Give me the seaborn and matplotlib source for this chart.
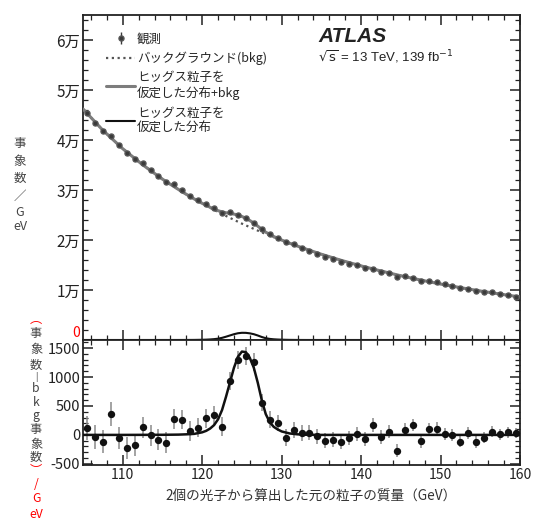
import numpy as np
import pandas as pd
import matplotlib
matplotlib.use("Agg")
import matplotlib.pyplot as plt
from matplotlib.ticker import MultipleLocator
from matplotlib.transforms import ScaledTranslation
import seaborn as sns

# bin centres (GeV)
mass_bins = [105.5, 106.5, 107.5, 108.5, 109.5, 110.5, 111.5, 112.5, 113.5, 114.5,
             115.5, 116.5, 117.5, 118.5, 119.5, 120.5, 121.5, 122.5, 123.5, 124.5,
             125.5, 126.5, 127.5, 128.5, 129.5, 130.5, 131.5, 132.5, 133.5, 134.5,
             135.5, 136.5, 137.5, 138.5, 139.5, 140.5, 141.5, 142.5, 143.5, 144.5,
             145.5, 146.5, 147.5, 148.5, 149.5, 150.5, 151.5, 152.5, 153.5, 154.5,
             155.5, 156.5, 157.5, 158.5, 159.5]

# observed events / GeV
observed = [45470, 43470, 41800, 40870, 39000, 37470, 36200, 35470, 34000, 32800,
            31670, 31200, 30000, 28800, 28000, 27200, 26330, 25330, 25530, 25070,
            24330, 23470, 22130, 21130, 20470, 19670, 19130, 18470, 17870, 17270,
            16600, 16130, 15600, 15270, 14930, 14400, 14270, 13600, 13330, 12670,
            12730, 12470, 11800, 11730, 11600, 11130, 10800, 10330, 10270, 9870,
            9670, 9530, 9130, 9070, 8670]

# observed - bkg
residual = [115, -40, -115, 362, -52, -230, -172, 132, -6, -86,
            -132, 270, 264, 63, 126, 287, 345, 144, 931, 1293,
            1368, 1259, 560, 265, 210, -46, 80, 34, 40, -23,
            -98, -80, -115, -57, 23, -75, 167, -40, 57, -276,
            86, 172, -109, 98, 109, 11, 0, -115, 29, -126,
            -46, 57, 11, 46, 34]

stat_err = [210, 205, 200, 200, 195, 190, 190, 185, 185, 180,
            175, 175, 170, 170, 165, 165, 160, 160, 160, 160,
            155, 150, 150, 145, 140, 140, 138, 135, 133, 130,
            128, 127, 125, 123, 122, 120, 119, 117, 115, 113,
            112, 111, 109, 108, 107, 105, 104, 102, 101, 100,
            99, 98, 96, 95, 94]

# background fit
bkg_mass = [105, 107.5, 110, 112.5, 115, 117.5, 120, 122.5, 125, 127.5, 130, 132.5,
            135, 137.5, 140, 142.5, 145, 147.5, 150, 152.5, 155, 157.5, 160]
bkg_fit = [46200, 41950, 38260, 35050, 32170, 29600, 27290, 25190, 23270, 21530, 19930,
           18480, 17150, 15930, 14820, 13800, 12850, 11990, 11200, 10470, 9800, 9180, 8610]

# signal + background fit
sb_mass = [105, 107.5, 110, 112.5, 115, 117.5, 119, 120, 121, 121.5, 122, 122.5, 123,
           123.5, 124, 124.5, 125, 125.5, 126, 126.5, 127, 127.5, 128, 129, 130, 131,
           132.5, 135, 137.5, 140, 142.5, 145, 147.5, 150, 152.5, 155, 157.5, 160]
sb_fit = [46200, 41950, 38260, 35050, 32170, 29610, 28210, 27340, 26540, 26180, 25860,
          25620, 25450, 25310, 25180, 24990, 24710, 24340, 23890, 23370, 22770, 22130,
          21560, 20700, 19990, 19360, 18490, 17150, 15930, 14820, 13800, 12850, 11990,
          11200, 10470, 9800, 9180, 8610]

# signal only fit
sig_mass = [105, 110, 115, 117, 118, 119, 120, 120.5, 121, 121.5, 122, 122.5, 123, 123.5,
            124, 124.5, 125, 125.5, 126, 126.5, 127, 127.5, 128, 128.5, 129, 129.5, 130,
            131, 132, 133, 135, 140, 150, 160]
sig_fit = [0, 0, 2, 5, 10, 18, 45, 70, 110, 170, 270, 430, 660, 910,
           1160, 1350, 1440, 1430, 1330, 1160, 900, 600, 360, 220, 140, 95, 60,
           25, 10, 3, 0, 0, 0, 0]

top_ticks = [0, 10000, 20000, 30000, 40000, 50000, 60000]
top_labels = ["0", "1万", "2万", "3万", "4万", "5万", "6万"]
bottom_ticks = [-500, 0, 500, 1000, 1500]
x_ticks = [110, 120, 130, 140, 150, 160]

sns.set_theme(style="ticks")
plt.rcParams['font.family'] = ['Noto Sans CJK JP', 'DejaVu Sans']
plt.rcParams['axes.unicode_minus'] = False

data = pd.DataFrame({"mass": mass_bins, "obs": observed, "res": residual, "err": stat_err})
bkg = pd.DataFrame({"mass": bkg_mass, "y": bkg_fit})
sb = pd.DataFrame({"mass": sb_mass, "y": sb_fit})
sig = pd.DataFrame({"mass": sig_mass, "y": sig_fit})

fig = plt.figure(figsize=(5.34, 5.2), dpi=100)
W, H = 534, 520
ax1 = fig.add_axes([83 / W, 1 - 340 / H, 437 / W, 325 / H])
ax2 = fig.add_axes([83 / W, 1 - 465 / H, 437 / W, 125 / H])

# top panel
sns.lineplot(data=bkg, x="mass", y="y", ax=ax1, color="#555555", lw=1.6,
             linestyle=(0, (1, 1.6)), label="バックグラウンド(bkg)", zorder=2)
sns.lineplot(data=sb, x="mass", y="y", ax=ax1, color="#7d7d7d", lw=2.2,
             label="ヒッグス粒子を\n仮定した分布+bkg", zorder=3)
sns.lineplot(data=sig, x="mass", y="y", ax=ax1, color="#111111", lw=1.5,
             label="ヒッグス粒子を\n仮定した分布", zorder=3)
ax1.errorbar(data["mass"], data["obs"], yerr=data["err"], fmt="o", ms=3.6,
             color="#3a3a3a", mec="#555555", ecolor="#3a3a3a", elinewidth=1,
             label="観測", zorder=4)

ax1.set_xlim(105, 160)
ax1.set_ylim(0, 65000)
ax1.set_yticks(top_ticks)
ax1.set_yticklabels(top_labels, fontsize=11)
ax1.yaxis.set_minor_locator(MultipleLocator(2000))
ax1.set_xticks(x_ticks)
ax1.xaxis.set_minor_locator(MultipleLocator(2))
ax1.tick_params(labelbottom=False)
ax1.set_xlabel("")
ax1.set_ylabel("")

handles, labels = ax1.get_legend_handles_labels()
order = [labels.index(l) for l in ["観測", "バックグラウンド(bkg)",
                                   "ヒッグス粒子を\n仮定した分布+bkg", "ヒッグス粒子を\n仮定した分布"]]
ax1.legend([handles[i] for i in order], [labels[i] for i in order],
           loc="upper left", bbox_to_anchor=(100 / W, 1 - 26 / H),
           bbox_transform=fig.transFigure, frameon=False, fontsize=9,
           handlelength=2.3, handletextpad=0.15, labelspacing=0.5, borderpad=0)

ax1.text(318 / W, 1 - 36 / H, "ATLAS", transform=fig.transFigure, fontsize=15,
         fontweight="bold", fontstyle="italic", family="Liberation Sans",
         va="center", ha="left", color="#222222")
ax1.text(318 / W, 1 - 57 / H, r"$\sqrt{\mathrm{s}}$ = 13 TeV, 139 fb$^{-1}$",
         transform=fig.transFigure, fontsize=9.5, family="Liberation Sans",
         va="center", ha="left", color="#222222")

# bottom panel
ax2.errorbar(data["mass"], data["res"], yerr=data["err"], fmt="none",
             ecolor="#8a8a8a", elinewidth=1.1, zorder=2)
sns.scatterplot(data=data, x="mass", y="res", ax=ax2, color="#111111", s=28,
                edgecolor="#111111", linewidth=0, zorder=4, legend=False)
sns.lineplot(data=sig, x="mass", y="y", ax=ax2, color="#111111", lw=1.8,
             zorder=3, legend=False)

ax2.set_xlim(105, 160)
ax2.set_ylim(-520, 1640)
ax2.set_yticks(bottom_ticks)
ax2.set_yticklabels([str(t) for t in bottom_ticks], fontsize=10.5)
ax2.yaxis.set_minor_locator(MultipleLocator(100))
ax2.set_xticks(x_ticks)
ax2.set_xticklabels([str(t) for t in x_ticks], fontsize=10)
ax2.xaxis.set_minor_locator(MultipleLocator(2))
ax2.set_xlabel("")
ax2.set_ylabel("")

for ax in (ax1, ax2):
    for s in ax.spines.values():
        s.set_visible(True)
        s.set_color("#222222")
        s.set_linewidth(1.3)
    ax.tick_params(which="both", direction="in", top=True, right=True,
                   color="#222222", pad=2, labelcolor="#222222")
    ax.tick_params(which="major", length=7, width=1.1)
    ax.tick_params(which="minor", length=3.5, width=0.9)

# red zero of the top panel, nudged up off the 1500 label
zero_lbl = ax1.get_yticklabels()[0]
zero_lbl.set_color("red")
zero_lbl.set_fontsize(10)
zero_lbl.set_transform(zero_lbl.get_transform() + ScaledTranslation(0, 6 / 72, fig.dpi_scale_trans))

fig.text(311 / W, 1 - 497 / H, "2個の光子から算出した元の粒子の質量（GeV）",
         ha="center", va="center", fontsize=9.8, color="#333333")

# stacked vertical y labels
top_chars = ["事", "象", "数", "／", "G", "eV"]
top_ys = [143, 161, 178, 196, 212, 227]
for ch, yy in zip(top_chars, top_ys):
    fig.text(20 / W, 1 - yy / H, ch, ha="center", va="center",
             fontsize=9, color="#444444")

bot_chars = ["︵", "事", "象", "数", "|", "b", "k", "g", "事", "象", "数", "︶", "/", "G", "eV"]
bot_ys = [319, 334, 349, 365, 377, 388, 402, 415, 430, 444, 458, 471, 484, 498, 515]
red_idx = {0, 11, 12, 13, 14}
for i, (ch, yy) in enumerate(zip(bot_chars, bot_ys)):
    fig.text(36 / W, 1 - yy / H, ch, ha="center", va="center",
             fontsize=6.5 if ch == "|" else 8.8,
             color="red" if i in red_idx else "#444444")

fig.savefig("out.png", dpi=100)
